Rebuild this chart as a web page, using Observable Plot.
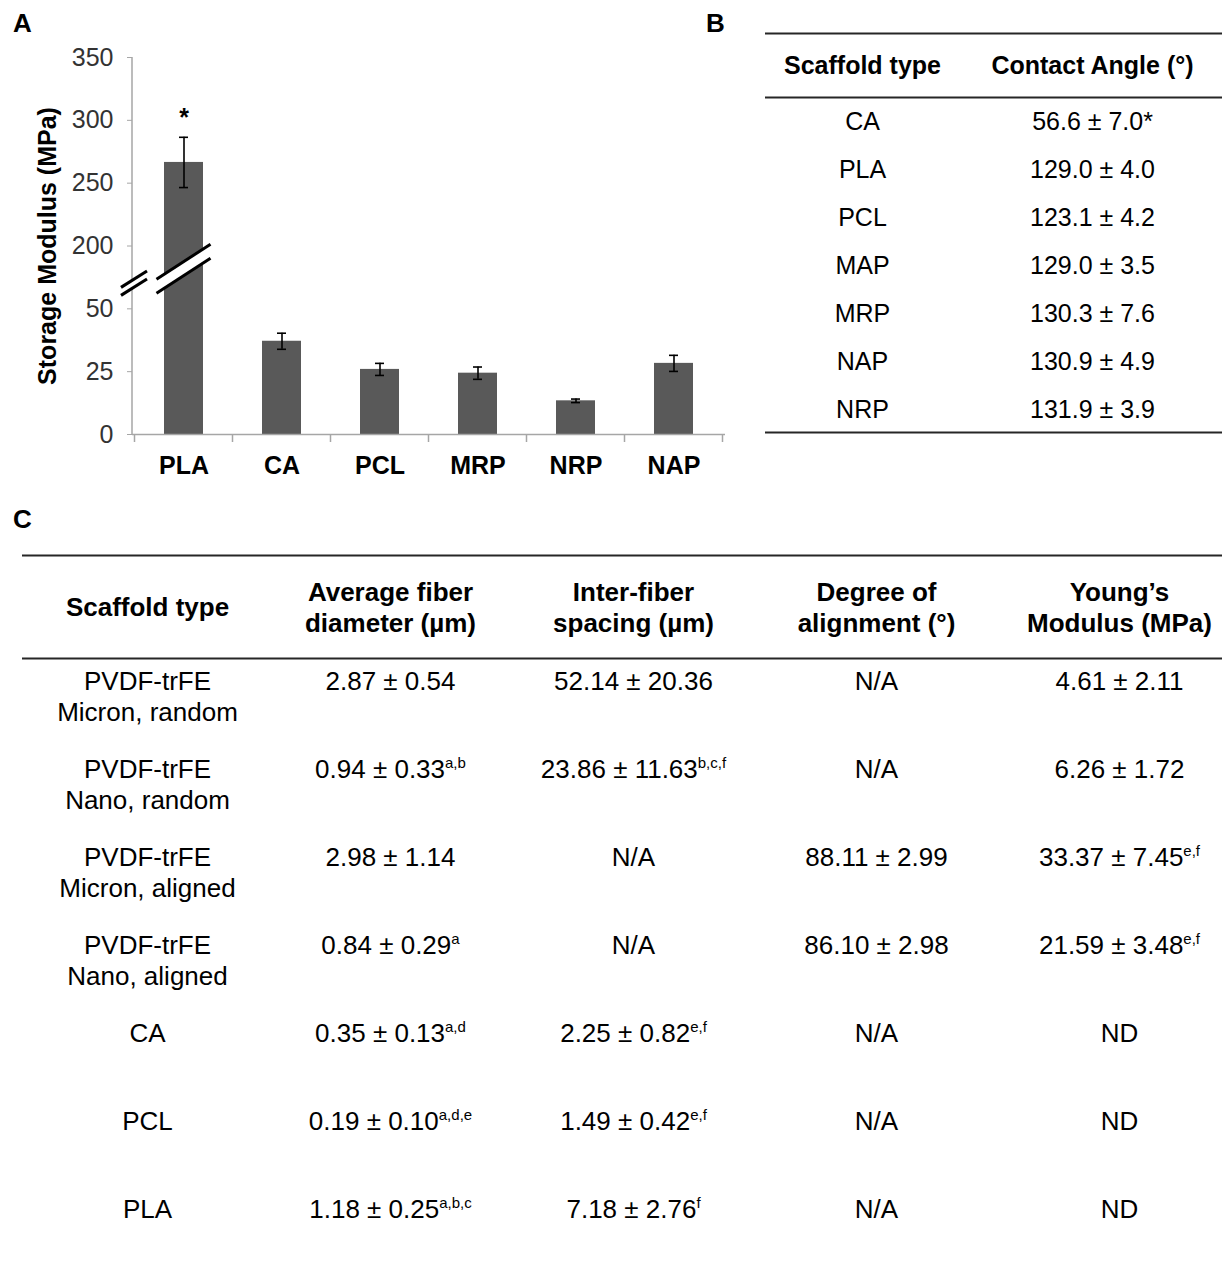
<!DOCTYPE html>
<html>
<head>
<meta charset="utf-8">
<script src="https://cdn.jsdelivr.net/npm/d3@7"></script>
<script src="https://cdn.jsdelivr.net/npm/@observablehq/plot@0.6"></script>
<style>
  html, body { margin: 0; padding: 0; background: #fff; }
  #root { position: relative; width: 1222px; height: 1270px; overflow: hidden; font-family: "Liberation Sans", Arial, sans-serif; }
  .panel { position: absolute; }
  .letter { position: absolute; font: bold 26px/26px "Liberation Sans", Arial, sans-serif; color: #000; }
</style>
</head>
<body>
<div id="root">
  <div class="letter" style="left:13px;top:10px">A</div>
  <div class="letter" style="left:706px;top:10px">B</div>
  <div class="letter" style="left:13px;top:506px">C</div>
  <div class="panel" id="panelA" style="left:0;top:0"></div>
  <div class="panel" id="panelB" style="left:765px;top:0"></div>
  <div class="panel" id="panelC" style="left:22px;top:540px"></div>
</div>
<script>
// ---------- Panel A data ----------
const categories = ["PLA", "CA", "PCL", "MRP", "NRP", "NAP"];
const storageModulus = [266.5, 37.1, 25.9, 24.4, 13.4, 28.3];
const storageError = [20.0, 3.2, 2.4, 2.45, 0.7, 3.2];
const significant = ["PLA"];
const yTickLabels = [0, 25, 50, 200, 250, 300, 350];
const yLabel = "Storage Modulus (MPa)";

// ---------- Panel B data ----------
const tableBHeaders = ["Scaffold type", "Contact Angle (°)"];
const tableBScaffolds = ["CA", "PLA", "PCL", "MAP", "MRP", "NAP", "NRP"];
const tableBContactAngle = ["56.6 ± 7.0*", "129.0 ± 4.0", "123.1 ± 4.2", "129.0 ± 3.5", "130.3 ± 7.6", "130.9 ± 4.9", "131.9 ± 3.9"];

// ---------- Panel C data ----------
const tableCHeaders = ["Scaffold type", "Average fiber\ndiameter (µm)", "Inter-fiber\nspacing (µm)", "Degree of\nalignment (°)", "Young’s\nModulus (MPa)"];
const tableCScaffolds = ["PVDF-trFE\nMicron, random", "PVDF-trFE\nNano, random", "PVDF-trFE\nMicron, aligned", "PVDF-trFE\nNano, aligned", "CA", "PCL", "PLA"];
const tableCDiameter = ["2.87 ± 0.54", "0.94 ± 0.33^a,b", "2.98 ± 1.14", "0.84 ± 0.29^a", "0.35 ± 0.13^a,d", "0.19 ± 0.10^a,d,e", "1.18 ± 0.25^a,b,c"];
const tableCSpacing = ["52.14 ± 20.36", "23.86 ± 11.63^b,c,f", "N/A", "N/A", "2.25 ± 0.82^e,f", "1.49 ± 0.42^e,f", "7.18 ± 2.76^f"];
const tableCAlignment = ["N/A", "N/A", "88.11 ± 2.99", "86.10 ± 2.98", "N/A", "N/A", "N/A"];
const tableCYoungs = ["4.61 ± 2.11", "6.26 ± 1.72", "33.37 ± 7.45^e,f", "21.59 ± 3.48^e,f", "ND", "ND", "ND"];

// ---------- helpers ----------
const FONT = "Liberation Sans, Arial, Helvetica, sans-serif";
const axisGray = "#a6a6a6";
const barFill = "#595959";

// broken axis: 0–50 in steps of 25, then 200–350 in steps of 50, each step one unit
const lowMax = yTickLabels[2];          // 50
const highMin = yTickLabels[3];         // 200
const lowStep = yTickLabels[1] - yTickLabels[0];
const highStep = yTickLabels[4] - yTickLabels[3];
function pos(v) {
  return v <= lowMax ? v / lowStep : 3 + (v - highMin) / highStep;
}

const barData = categories.map((c, i) => ({cat: c, value: storageModulus[i], err: storageError[i]}));

function addSuperscripts(svg) {
  svg.querySelectorAll("text").forEach(t => {
    if (t.children.length) return;
    const s = t.textContent;
    const k = s.indexOf("^");
    if (k < 0) return;
    t.textContent = s.slice(0, k);
    const ts = document.createElementNS("http://www.w3.org/2000/svg", "tspan");
    ts.setAttribute("font-size", "15");
    ts.setAttribute("dy", "-10");
    ts.textContent = s.slice(k + 1);
    t.appendChild(ts);
  });
}

// decorations drawn through the scales: y-axis line, category ticks, axis breaks
function decor(index, scales, values, dimensions) {
  const {x, y} = scales;
  const {marginLeft} = dimensions;
  const g = d3.create("svg:g");
  const step = x(categories[1]) - x(categories[0]);
  const bw = typeof x.bandwidth === "function" ? x.bandwidth() : step * 0.4;
  const first = x(categories[0]) - (step - bw) / 2;
  g.append("line").attr("x1", marginLeft).attr("x2", marginLeft)
    .attr("y1", y(0)).attr("y2", y(yTickLabels.length - 1))
    .attr("stroke", axisGray).attr("stroke-width", 1.5);
  for (let i = 0; i <= categories.length; i++) {
    const bx = first + i * step;
    g.append("line").attr("x1", bx).attr("x2", bx).attr("y1", y(0)).attr("y2", y(0) + 8)
      .attr("stroke", axisGray).attr("stroke-width", 1.5);
  }
  const drawBreak = (cx, cy, hw, slope, gap) => {
    const p = [
      [cx - hw, cy - gap / 2 + hw * slope],
      [cx + hw, cy - gap / 2 - hw * slope],
      [cx + hw, cy + gap / 2 - hw * slope],
      [cx - hw, cy + gap / 2 + hw * slope]
    ];
    g.append("path").attr("d", `M${p[0]}L${p[1]}L${p[2]}L${p[3]}Z`).attr("fill", "#fff");
    g.append("line").attr("x1", p[0][0]).attr("y1", p[0][1]).attr("x2", p[1][0]).attr("y2", p[1][1])
      .attr("stroke", "#000").attr("stroke-width", 3);
    g.append("line").attr("x1", p[3][0]).attr("y1", p[3][1]).attr("x2", p[2][0]).attr("y2", p[2][1])
      .attr("stroke", "#000").attr("stroke-width", 3);
  };
  drawBreak(marginLeft + 2, y(2.4), 13, 0.63, 8);
  drawBreak(x(categories[0]) + bw / 2, y(2.63), 27, 0.65, 14);
  return g.node();
}

// ---------- Panel A ----------
const chartA = Plot.plot({
  width: 740,
  height: 490,
  marginLeft: 132,
  marginRight: 15,
  marginTop: 57,
  marginBottom: 56,
  style: {fontFamily: FONT, background: "transparent", overflow: "visible", color: "#000"},
  x: {type: "band", domain: categories, paddingInner: 0.6, paddingOuter: 0.3},
  y: {domain: [0, yTickLabels.length - 1]},
  marks: [
    Plot.barY(barData, {x: "cat", y: d => pos(d.value), fill: barFill}),
    Plot.ruleY([0], {stroke: axisGray, strokeWidth: 1.5}),
    decor,
    Plot.ruleX(barData, {x: "cat", y1: d => pos(d.value - d.err), y2: d => pos(d.value + d.err), stroke: "#000", strokeWidth: 1.6}),
    Plot.tickY(barData, {x: "cat", y: d => pos(d.value + d.err), insetLeft: 15, insetRight: 15, stroke: "#000", strokeWidth: 1.6}),
    Plot.tickY(barData, {x: "cat", y: d => pos(d.value - d.err), insetLeft: 15, insetRight: 15, stroke: "#000", strokeWidth: 1.6}),
    Plot.text(barData.filter(d => significant.includes(d.cat)), {x: "cat", y: d => pos(d.value + d.err), text: () => "*", dy: -19, fontSize: 25, fontWeight: "bold", fill: "#000"}),
    Plot.axisY({ticks: yTickLabels.map((_, i) => i), tickFormat: i => yTickLabels[i], tickSize: 5, tickPadding: 14, stroke: axisGray, fill: "#333", fontSize: 25, label: null}),
    Plot.axisX({tickSize: 0, tickPadding: 22, fontSize: 25, fontWeight: "bold", fill: "#000", label: null}),
    Plot.text([yLabel], {frameAnchor: "left", textAnchor: "middle", rotate: -90, dx: -85, fontSize: 25, fontWeight: "bold", fill: "#000"})
  ]
});
document.getElementById("panelA").appendChild(chartA);

// ---------- Panel B ----------
const cellsB = tableBScaffolds.flatMap((s, i) => [
  {col: tableBHeaders[0], row: s, text: s},
  {col: tableBHeaders[1], row: s, text: tableBContactAngle[i]}
]);
const ruleStyle = {stroke: "#262626", strokeWidth: 2.2};
const chartB = Plot.plot({
  width: 457,
  height: 450,
  margin: 0,
  style: {fontFamily: FONT, background: "transparent", overflow: "visible", color: "#000"},
  x: {type: "point", domain: tableBHeaders, range: [97, 327], padding: 0, axis: null},
  y: {type: "point", domain: tableBScaffolds, range: [118, 411], padding: 0, axis: null},
  marks: [
    Plot.ruleY([tableBScaffolds[0]], {dy: -88, ...ruleStyle}),
    Plot.ruleY([tableBScaffolds[0]], {dy: -24, ...ruleStyle}),
    Plot.ruleY([tableBScaffolds[tableBScaffolds.length - 1]], {dy: 23, ...ruleStyle}),
    Plot.text(tableBHeaders, {x: d => d, y: () => tableBScaffolds[0], dy: -56, fontSize: 25, fontWeight: "bold", fill: "#000"}),
    Plot.text(cellsB, {x: "col", y: "row", text: "text", fontSize: 25, fill: "#000"})
  ]
});
document.getElementById("panelB").appendChild(chartB);

// ---------- Panel C ----------
const columnsC = [tableCScaffolds, tableCDiameter, tableCSpacing, tableCAlignment, tableCYoungs];
const cellsC = tableCScaffolds.flatMap((s, i) =>
  columnsC.map((col, j) => ({col: tableCHeaders[j], row: s, text: col[i]}))
);
const chartC = Plot.plot({
  width: 1200,
  height: 730,
  margin: 0,
  style: {fontFamily: FONT, background: "transparent", overflow: "visible", color: "#000"},
  x: {type: "point", domain: tableCHeaders, range: [123, 1098], padding: 0, axis: null},
  y: {type: "point", domain: tableCScaffolds, range: [138, 670], padding: 0, axis: null},
  marks: [
    Plot.ruleY([tableCScaffolds[0]], {dy: -125, ...ruleStyle}),
    Plot.ruleY([tableCScaffolds[0]], {dy: -22, ...ruleStyle}),
    Plot.text(tableCHeaders, {x: d => d, y: () => tableCScaffolds[0], dy: -74, fontSize: 26, fontWeight: "bold", lineHeight: 1.2, fill: "#000"}),
    Plot.text(cellsC, {x: "col", y: "row", text: "text", fontSize: 26, lineHeight: 1.2, lineAnchor: "top", dy: -13, fill: "#000"})
  ]
});
addSuperscripts(chartC);
document.getElementById("panelC").appendChild(chartC);
</script>
</body>
</html>
